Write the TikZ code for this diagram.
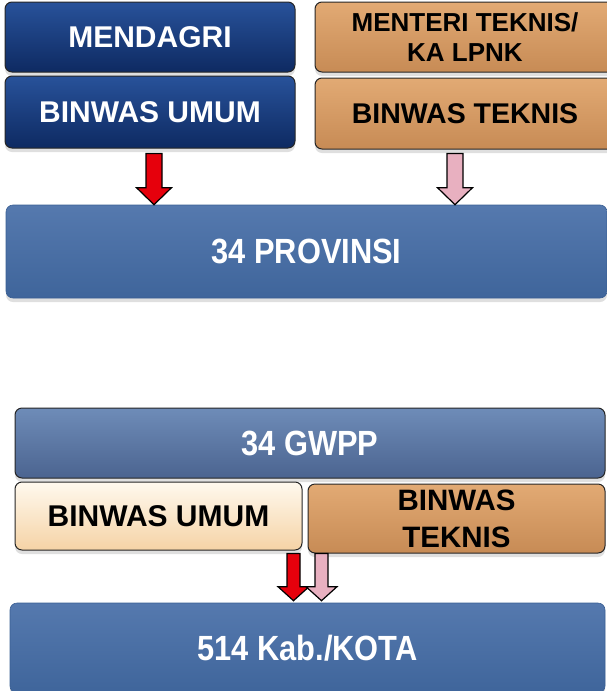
\documentclass[tikz,border=0pt]{standalone}
\usepackage{fontspec}
\setmainfont{Liberation Sans}
\newfontfamily\narrowfont[FakeStretch=0.88]{Liberation Sans}
\usetikzlibrary{positioning,calc,shadows}

\definecolor{navytop}{HTML}{28529A}
\definecolor{navybot}{HTML}{0E2A62}
\definecolor{tantop}{HTML}{E2AA74}
\definecolor{tanbot}{HTML}{C78B55}
\definecolor{steeltop}{HTML}{5579AE}
\definecolor{steelbot}{HTML}{3F659B}
\definecolor{steelline}{HTML}{3A5F93}
\definecolor{slatetop}{HTML}{6E8CB8}
\definecolor{slatebot}{HTML}{4B6490}
\definecolor{peachtop}{HTML}{FFF9EE}
\definecolor{peachbot}{HTML}{F5D3A6}
\definecolor{arrowred}{HTML}{E6000C}
\definecolor{arrowpink}{HTML}{E8B0C0}

\newcommand{\boxfont}[2]{\fontsize{#1}{#2}\selectfont\bfseries}

\tikzset{
  box/.style={rounded corners=7pt, inner sep=0pt, align=center,
    drop shadow={shadow xshift=0pt, shadow yshift=-4pt, opacity=.25}},
  navybox/.style={box, draw=black!85, line width=1pt, top color=navytop, bottom color=navybot, text=white},
  tanbox/.style={box, draw=black!85, line width=1pt, top color=tantop, bottom color=tanbot, text=black},
  steelbox/.style={box, draw=steelline, line width=.6pt, top color=steeltop, bottom color=steelbot, text=white},
  slatebox/.style={box, draw=black!85, line width=1pt, top color=slatetop, bottom color=slatebot, text=white},
  peachbox/.style={box, draw=black!85, line width=1pt, top color=peachtop, bottom color=peachbot, text=black},
  bigarrow/.style={draw=black, line width=1.2pt, line join=miter, fill=#1,
    to path={let \p1=(\tikztostart), \p2=(\tikztotarget) in
      (\x1-8pt,\y1) -- (\x1-8pt,\y2+17pt) -- (\x1-17.5pt,\y2+17pt) -- (\x1,\y2)
      -- (\x1+17.5pt,\y2+17pt) -- (\x1+8pt,\y2+17pt) -- (\x1+8pt,\y1) -- cycle}},
  smallarrow/.style={draw=black, line width=1.2pt, line join=miter, fill=#1,
    to path={let \p1=(\tikztostart), \p2=(\tikztotarget) in
      (\x1-6.5pt,\y1) -- (\x1-6.5pt,\y2+14pt) -- (\x1-15.5pt,\y2+14pt) -- (\x1,\y2)
      -- (\x1+15.5pt,\y2+14pt) -- (\x1+6.5pt,\y2+14pt) -- (\x1+6.5pt,\y1) -- cycle}}
}

\begin{document}
\begin{tikzpicture}[x=1pt,y=-1pt]
\useasboundingbox (0,0) rectangle (606,691);
% pembina pusat
\node[navybox,minimum width=290pt,minimum height=70pt,font=\boxfont{30}{32}] (mendagri) at (150,37) {MENDAGRI};
\node[navybox,minimum width=290pt,minimum height=72pt,below=3pt of mendagri,font=\boxfont{30}{32}] (binwasumum) {BINWAS UMUM};
\node[tanbox,minimum width=300pt,minimum height=70pt,font=\boxfont{26}{30}] (menteri) at (465,37) {MENTERI TEKNIS/\\KA LPNK};
\node[tanbox,minimum width=300pt,minimum height=71pt,below=5pt of menteri,font=\boxfont{28.5}{30}] (binwasteknis) {BINWAS TEKNIS};
\node[steelbox,minimum width=601pt,minimum height=93pt,font={\narrowfont\boxfont{35}{38}}] (provinsi) at (306.5,251.5) {34 PROVINSI};
% GWPP
\node[slatebox,minimum width=590pt,minimum height=70pt,font={\narrowfont\boxfont{35}{38}}] (gwpp) at (310,443) {34 GWPP};
\node[peachbox,minimum width=287pt,minimum height=68pt,font=\boxfont{30}{32}] (binwasumumb) at (158.5,516) {BINWAS UMUM};
\node[tanbox,minimum width=297pt,minimum height=69pt,font=\boxfont{29.5}{37}] (binwasteknisb) at (456.5,518.5) {BINWAS\\TEKNIS};
\node[steelbox,minimum width=595pt,minimum height=90pt,font={\narrowfont\boxfont{35}{38}}] (kota) at (307.5,648) {514 Kab./KOTA};
% panah
\draw[bigarrow=arrowred] ([xshift=4pt,yshift=-5pt]binwasumum.south) to ([xshift=4pt]binwasumum.south |- provinsi.north);
\draw[bigarrow=arrowpink] ([xshift=-10pt,yshift=-4pt]binwasteknis.south) to ([xshift=-10pt]binwasteknis.south |- provinsi.north);
\draw[smallarrow=arrowred] ([xshift=-9pt,yshift=-3pt]binwasumumb.south east) to ([xshift=-9pt,yshift=2pt]binwasumumb.south east |- kota.north);
\draw[smallarrow=arrowpink] ([xshift=14pt]binwasteknisb.south west) to ([xshift=14pt,yshift=2pt]binwasteknisb.south west |- kota.north);
\end{tikzpicture}
\end{document}
